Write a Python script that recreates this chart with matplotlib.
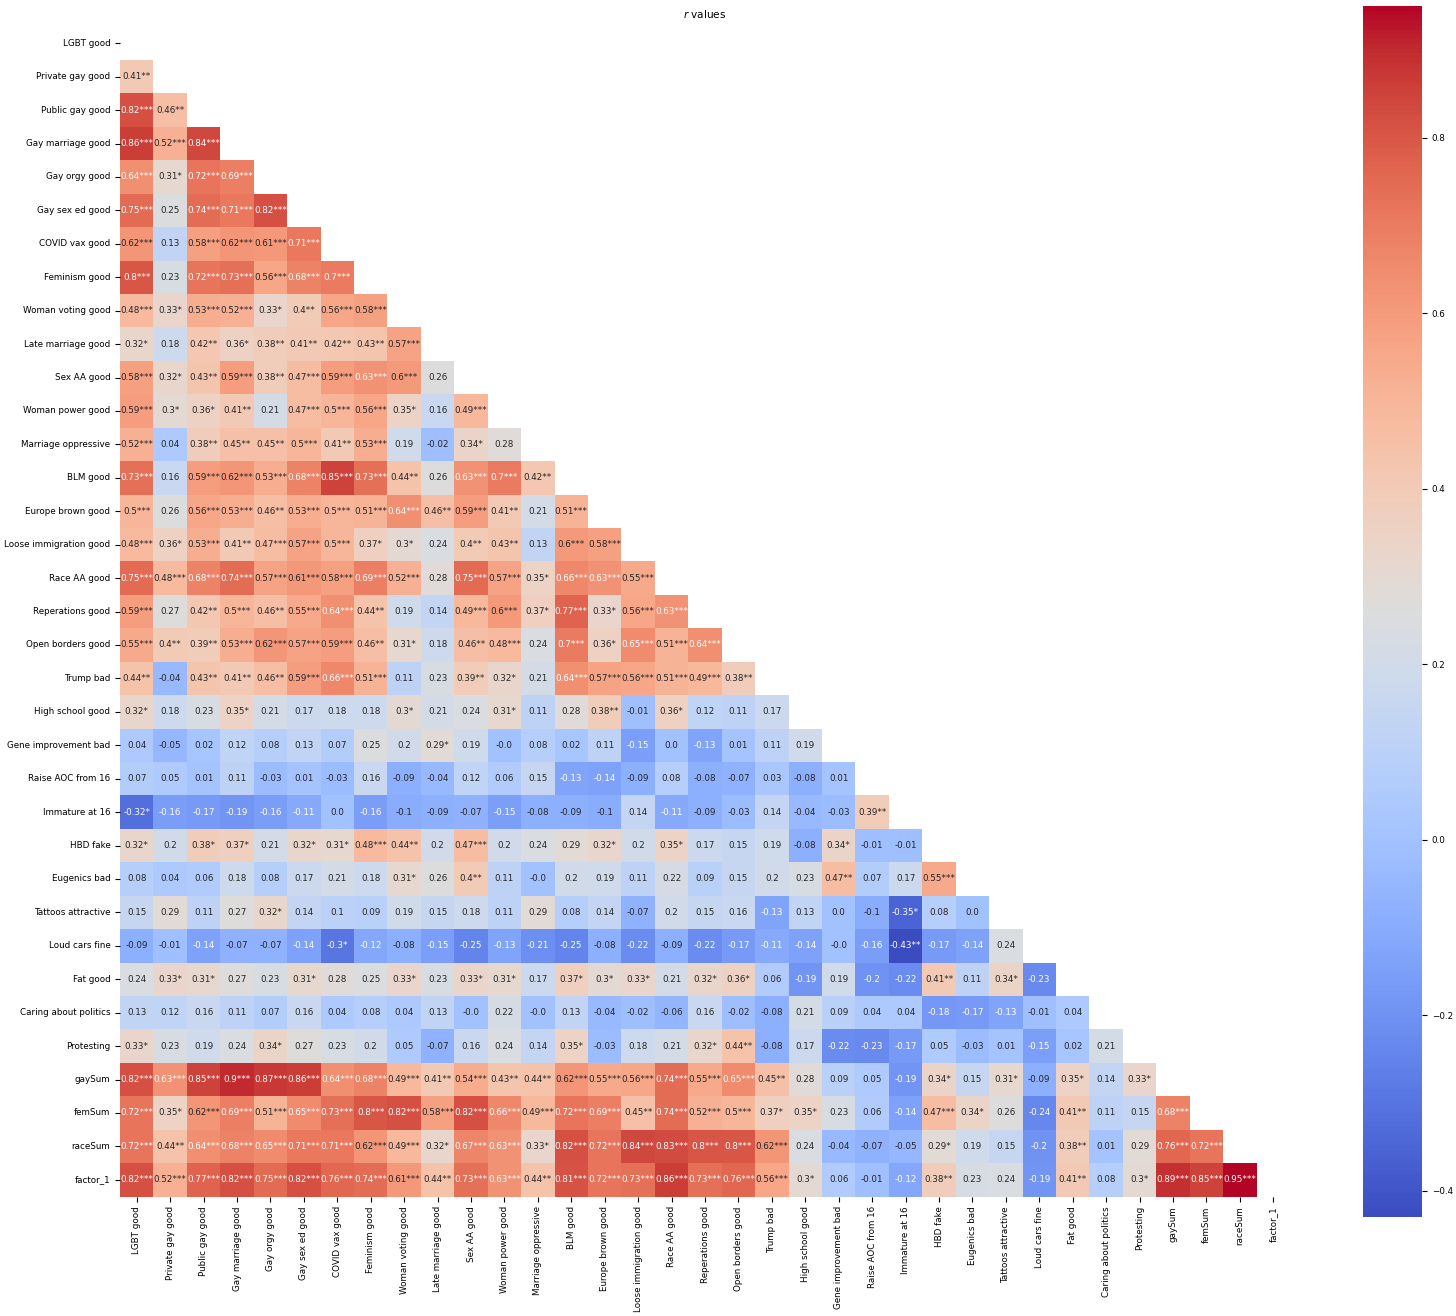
import numpy as np
import matplotlib
matplotlib.use("Agg")
import matplotlib.pyplot as plt
import seaborn as sns

# Variable names (rows and columns of the correlation matrix)
variables = [
    "LGBT good", "Private gay good", "Public gay good", "Gay marriage good",
    "Gay orgy good", "Gay sex ed good", "COVID vax good", "Feminism good",
    "Woman voting good", "Late marriage good", "Sex AA good", "Woman power good",
    "Marriage oppressive", "BLM good", "Europe brown good", "Loose immigration good",
    "Race AA good", "Reperations good", "Open borders good", "Trump bad",
    "High school good", "Gene improvement bad", "Raise AOC from 16", "Immature at 16",
    "HBD fake", "Eugenics bad", "Tattoos attractive", "Loud cars fine", "Fat good",
    "Caring about politics", "Protesting", "gaySum", "femSum", "raceSum", "factor_1",
]

# Lower triangle, row by row (r value + significance stars)
lower_rows = [
    "",
    "0.41**",
    "0.82*** 0.46**",
    "0.86*** 0.52*** 0.84***",
    "0.64*** 0.31* 0.72*** 0.69***",
    "0.75*** 0.25 0.74*** 0.71*** 0.82***",
    "0.62*** 0.13 0.58*** 0.62*** 0.61*** 0.71***",
    "0.8*** 0.23 0.72*** 0.73*** 0.56*** 0.68*** 0.7***",
    "0.48*** 0.33* 0.53*** 0.52*** 0.33* 0.4** 0.56*** 0.58***",
    "0.32* 0.18 0.42** 0.36* 0.38** 0.41** 0.42** 0.43** 0.57***",
    "0.58*** 0.32* 0.43** 0.59*** 0.38** 0.47*** 0.59*** 0.63*** 0.6*** 0.26",
    "0.59*** 0.3* 0.36* 0.41** 0.21 0.47*** 0.5*** 0.56*** 0.35* 0.16 0.49***",
    "0.52*** 0.04 0.38** 0.45** 0.45** 0.5*** 0.41** 0.53*** 0.19 -0.02 0.34* 0.28",
    "0.73*** 0.16 0.59*** 0.62*** 0.53*** 0.68*** 0.85*** 0.73*** 0.44** 0.26 0.63*** 0.7*** 0.42**",
    "0.5*** 0.26 0.56*** 0.53*** 0.46** 0.53*** 0.5*** 0.51*** 0.64*** 0.46** 0.59*** 0.41** 0.21 0.51***",
    "0.48*** 0.36* 0.53*** 0.41** 0.47*** 0.57*** 0.5*** 0.37* 0.3* 0.24 0.4** 0.43** 0.13 0.6*** 0.58***",
    "0.75*** 0.48*** 0.68*** 0.74*** 0.57*** 0.61*** 0.58*** 0.69*** 0.52*** 0.28 0.75*** 0.57*** 0.35* "
    "0.66*** 0.63*** 0.55***",
    "0.59*** 0.27 0.42** 0.5*** 0.46** 0.55*** 0.64*** 0.44** 0.19 0.14 0.49*** 0.6*** 0.37* 0.77*** "
    "0.33* 0.56*** 0.63***",
    "0.55*** 0.4** 0.39** 0.53*** 0.62*** 0.57*** 0.59*** 0.46** 0.31* 0.18 0.46** 0.48*** 0.24 0.7*** "
    "0.36* 0.65*** 0.51*** 0.64***",
    "0.44** -0.04 0.43** 0.41** 0.46** 0.59*** 0.66*** 0.51*** 0.11 0.23 0.39** 0.32* 0.21 0.64*** "
    "0.57*** 0.56*** 0.51*** 0.49*** 0.38**",
    "0.32* 0.18 0.23 0.35* 0.21 0.17 0.18 0.18 0.3* 0.21 0.24 0.31* 0.11 0.28 0.38** -0.01 0.36* 0.12 "
    "0.11 0.17",
    "0.04 -0.05 0.02 0.12 0.08 0.13 0.07 0.25 0.2 0.29* 0.19 -0.0 0.08 0.02 0.11 -0.15 0.0 -0.13 0.01 "
    "0.11 0.19",
    "0.07 0.05 0.01 0.11 -0.03 0.01 -0.03 0.16 -0.09 -0.04 0.12 0.06 0.15 -0.13 -0.14 -0.09 0.08 -0.08 "
    "-0.07 0.03 -0.08 0.01",
    "-0.32* -0.16 -0.17 -0.19 -0.16 -0.11 0.0 -0.16 -0.1 -0.09 -0.07 -0.15 -0.08 -0.09 -0.1 0.14 -0.11 "
    "-0.09 -0.03 0.14 -0.04 -0.03 0.39**",
    "0.32* 0.2 0.38* 0.37* 0.21 0.32* 0.31* 0.48*** 0.44** 0.2 0.47*** 0.2 0.24 0.29 0.32* 0.2 0.35* "
    "0.17 0.15 0.19 -0.08 0.34* -0.01 -0.01",
    "0.08 0.04 0.06 0.18 0.08 0.17 0.21 0.18 0.31* 0.26 0.4** 0.11 -0.0 0.2 0.19 0.11 0.22 0.09 0.15 "
    "0.2 0.23 0.47** 0.07 0.17 0.55***",
    "0.15 0.29 0.11 0.27 0.32* 0.14 0.1 0.09 0.19 0.15 0.18 0.11 0.29 0.08 0.14 -0.07 0.2 0.15 0.16 "
    "-0.13 0.13 0.0 -0.1 -0.35* 0.08 0.0",
    "-0.09 -0.01 -0.14 -0.07 -0.07 -0.14 -0.3* -0.12 -0.08 -0.15 -0.25 -0.13 -0.21 -0.25 -0.08 -0.22 "
    "-0.09 -0.22 -0.17 -0.11 -0.14 -0.0 -0.16 -0.43** -0.17 -0.14 0.24",
    "0.24 0.33* 0.31* 0.27 0.23 0.31* 0.28 0.25 0.33* 0.23 0.33* 0.31* 0.17 0.37* 0.3* 0.33* 0.21 "
    "0.32* 0.36* 0.06 -0.19 0.19 -0.2 -0.22 0.41** 0.11 0.34* -0.23",
    "0.13 0.12 0.16 0.11 0.07 0.16 0.04 0.08 0.04 0.13 -0.0 0.22 -0.0 0.13 -0.04 -0.02 -0.06 0.16 "
    "-0.02 -0.08 0.21 0.09 0.04 0.04 -0.18 -0.17 -0.13 -0.01 0.04",
    "0.33* 0.23 0.19 0.24 0.34* 0.27 0.23 0.2 0.05 -0.07 0.16 0.24 0.14 0.35* -0.03 0.18 0.21 0.32* "
    "0.44** -0.08 0.17 -0.22 -0.23 -0.17 0.05 -0.03 0.01 -0.15 0.02 0.21",
    "0.82*** 0.63*** 0.85*** 0.9*** 0.87*** 0.86*** 0.64*** 0.68*** 0.49*** 0.41** 0.54*** 0.43** "
    "0.44** 0.62*** 0.55*** 0.56*** 0.74*** 0.55*** 0.65*** 0.45** 0.28 0.09 0.05 -0.19 0.34* 0.15 "
    "0.31* -0.09 0.35* 0.14 0.33*",
    "0.72*** 0.35* 0.62*** 0.69*** 0.51*** 0.65*** 0.73*** 0.8*** 0.82*** 0.58*** 0.82*** 0.66*** "
    "0.49*** 0.72*** 0.69*** 0.45** 0.74*** 0.52*** 0.5*** 0.37* 0.35* 0.23 0.06 -0.14 0.47*** 0.34* "
    "0.26 -0.24 0.41** 0.11 0.15 0.68***",
    "0.72*** 0.44** 0.64*** 0.68*** 0.65*** 0.71*** 0.71*** 0.62*** 0.49*** 0.32* 0.67*** 0.63*** "
    "0.33* 0.82*** 0.72*** 0.84*** 0.83*** 0.8*** 0.8*** 0.62*** 0.24 -0.04 -0.07 -0.05 0.29* 0.19 "
    "0.15 -0.2 0.38** 0.01 0.29 0.76*** 0.72***",
    "0.82*** 0.52*** 0.77*** 0.82*** 0.75*** 0.82*** 0.76*** 0.74*** 0.61*** 0.44** 0.73*** 0.63*** "
    "0.44** 0.81*** 0.72*** 0.73*** 0.86*** 0.73*** 0.76*** 0.56*** 0.3* 0.06 -0.01 -0.12 0.38** 0.23 "
    "0.24 -0.19 0.41** 0.08 0.3* 0.89*** 0.85*** 0.95***",
]

n = len(variables)
r = np.full((n, n), np.nan)
labels = np.full((n, n), "", dtype=object)
for i, row in enumerate(lower_rows):
    cells = row.split()
    assert len(cells) == i, (i, len(cells))
    for j, cell in enumerate(cells):
        r[i, j] = float(cell.rstrip("*"))
        labels[i, j] = cell
        r[j, i] = r[i, j]
for i in range(n):
    r[i, i] = 1.0

mask = np.triu(np.ones_like(r, dtype=bool))

plt.rcParams["font.size"] = 6.3

W, H = 1456, 1316
fig = plt.figure(figsize=(W / 100, H / 100), dpi=100)
ax = fig.add_axes([120 / W, (H - 1217) / H, 1170 / W, 1211 / H])
cax = fig.add_axes([1363 / W, (H - 1217) / H, 59 / W, 1211 / H])

sns.heatmap(r, mask=mask, cmap="coolwarm", annot=labels, fmt="", square=True,
            xticklabels=variables, yticklabels=variables, ax=ax, cbar_ax=cax)
ax.set_xticklabels(variables, rotation=90)
ax.set_yticklabels(variables, rotation=0)
ax.set_title("$r$ values")

fig.savefig("out.png", dpi=100)
